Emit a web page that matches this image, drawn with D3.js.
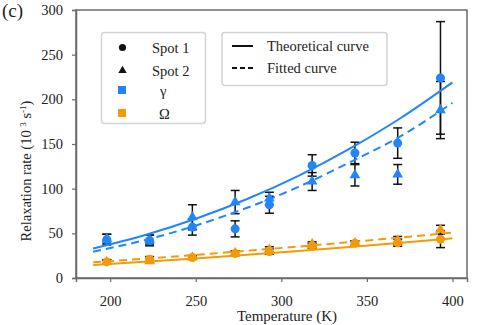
<!DOCTYPE html>
<html><head><meta charset="utf-8">
<script src="https://cdn.jsdelivr.net/npm/d3@7"></script>
<style>body{margin:0;background:#fff}svg{display:block}text{font-family:"Liberation Serif","Times New Roman",serif;fill:#222}</style>
</head><body><svg id="c" width="488" height="325"></svg>
<script>
// Measured temperatures (K)
const temps = [198, 223, 248, 273, 293, 318, 343, 368, 393];
// gamma relaxation rate (10^3 s^-1)
const gammaSpot1 = [43, 42, 57, 55, 82, 126, 140, 151, 224];
const gammaSpot1Err = [6, 6, 9, 9, 9.5, 12, 12, 17, 63];
const gammaSpot2 = [44, 43, 68, 85, 89, 108, 115, 116, 188];
const gammaSpot2Err = [5, 5, 14, 13, 7, 10, 12, 11, 32];
// Omega relaxation rate
const omegaSpot1 = [18, 21, 23, 27.5, 29.5, 36, 39, 39.5, 43.5];
const omegaSpot1Err = [2.5, 3, 2, 2.5, 3, 2.5, 2.5, 4, 9.5];
const omegaSpot2 = [18, 19, 23, 28, 32, 38, 39, 42, 54];
const omegaSpot2Err = [2, 2.5, 2, 2.5, 3, 2.5, 2.5, 4.5, 5];
// Curves
const curveTemps = [190, 220, 250, 280, 310, 340, 370, 400];
const gammaTheory = [33, 47.9, 66.3, 88.4, 114.4, 144.8, 179.4, 219];
const gammaFit = [29.5, 42.3, 58.7, 78.6, 102, 129.5, 159, 196];
const omegaTheory = [14.5, 18.1, 21.9, 25.9, 30.2, 34.7, 39.4, 44.4];
const omegaFit = [17.5, 21.6, 25.9, 30.5, 35.2, 40.2, 45.4, 50.8];
const xTicks = [200, 250, 300, 350, 400];
const yTicks = [0, 50, 100, 150, 200, 250, 300];

const BLUE = "#1f86ff", ORANGE = "#f39a0b";
const svg = d3.select("#c");
const x = d3.scaleLinear().domain([180, 408.5]).range([76, 467]);
const y = d3.scaleLinear().domain([0, 300]).range([278, 10]);

// frame
svg.append("rect").attr("x", 76).attr("y", 10).attr("width", 391).attr("height", 268)
  .attr("fill", "none").attr("stroke", "#6a6a6a").attr("stroke-width", 1.5);

// axes
const ax = svg.append("g").attr("transform", "translate(0,278)")
  .call(d3.axisBottom(x).tickValues(xTicks).tickSize(4).tickPadding(14).tickFormat(d3.format("d")));
const ay = svg.append("g").attr("transform", "translate(76,0)")
  .call(d3.axisLeft(y).tickValues(yTicks).tickSize(4).tickPadding(9).tickFormat(d3.format("d")));
[ax, ay].forEach(g => {
  g.attr("font-family", "Liberation Serif");
  g.select(".domain").attr("stroke", "#6a6a6a").attr("stroke-width", 1.5);
  g.selectAll(".tick line").attr("stroke", "#6a6a6a").attr("stroke-width", 1.2);
  g.selectAll("text").attr("font-family", "Liberation Serif").attr("font-size", 14.5).attr("fill", "#222");
});

// titles
svg.append("text").attr("x", 287).attr("y", 321).attr("text-anchor", "middle")
  .attr("font-size", 15).text("Temperature (K)");
const yt = svg.append("text").attr("transform", "translate(31,171) rotate(-90)")
  .attr("text-anchor", "middle").attr("font-size", 14.5);
yt.append("tspan").text("Relaxation rate (10 ");
yt.append("tspan").attr("font-size", 9).attr("dy", -5).text("3");
yt.append("tspan").attr("dy", 5).text(" s");
yt.append("tspan").attr("font-size", 9).attr("dy", -5).text("-1");
yt.append("tspan").attr("dy", 5).text(")");
svg.append("text").attr("x", 2).attr("y", 17).attr("font-size", 19).text("(c)");

// error bars
function errBars(vals, errs) {
  const g = svg.append("g").attr("stroke", "#111").attr("stroke-width", 1.5);
  temps.forEach((t, i) => {
    const cx = x(t), y1 = y(vals[i] + errs[i]), y2 = y(vals[i] - errs[i]);
    g.append("line").attr("x1", cx).attr("x2", cx).attr("y1", y1).attr("y2", y2);
    g.append("line").attr("x1", cx - 4.5).attr("x2", cx + 4.5).attr("y1", y1).attr("y2", y1);
    g.append("line").attr("x1", cx - 4.5).attr("x2", cx + 4.5).attr("y1", y2).attr("y2", y2);
  });
}
errBars(gammaSpot1, gammaSpot1Err);
errBars(gammaSpot2, gammaSpot2Err);
errBars(omegaSpot1, omegaSpot1Err);
errBars(omegaSpot2, omegaSpot2Err);

// curves
const line = d3.line().x((d, i) => x(curveTemps[i])).y(d => y(d)).curve(d3.curveMonotoneX);
function curve(vals, color, dash) {
  svg.append("path").attr("d", line(vals)).attr("fill", "none").attr("stroke", color)
    .attr("stroke-width", 2).attr("stroke-dasharray", dash || null);
}
curve(gammaTheory, BLUE);
curve(gammaFit, BLUE, "8,5");
curve(omegaTheory, ORANGE);
curve(omegaFit, ORANGE, "8,5");

// markers
const circ = d3.symbol().type(d3.symbolCircle).size(64);
const tri = d3.symbol().type(d3.symbolTriangle).size(50);
function markers(vals, sym, color) {
  svg.append("g").selectAll("path").data(vals).join("path")
    .attr("d", sym).attr("fill", color)
    .attr("transform", (d, i) => `translate(${x(temps[i])},${y(d)})`);
}
markers(gammaSpot1, circ, BLUE);
markers(gammaSpot2, tri, BLUE);
markers(omegaSpot1, circ, ORANGE);
markers(omegaSpot2, tri, ORANGE);

// legend 1
const lg1 = svg.append("g");
lg1.append("rect").attr("x", 101.5).attr("y", 32.5).attr("width", 104).attr("height", 91)
  .attr("rx", 3).attr("fill", "#fff").attr("stroke", "#d4d4d4").attr("stroke-width", 1.5);
lg1.append("path").attr("d", d3.symbol().type(d3.symbolCircle).size(40)()).attr("transform", "translate(122.5,47.5)").attr("fill", "#111");
lg1.append("path").attr("d", d3.symbol().type(d3.symbolTriangle).size(30)()).attr("transform", "translate(122.5,70.5)").attr("fill", "#111");
lg1.append("rect").attr("x", 118).attr("y", 86).attr("width", 8).attr("height", 8).attr("fill", BLUE);
lg1.append("rect").attr("x", 118).attr("y", 109).attr("width", 8).attr("height", 8).attr("fill", ORANGE);
lg1.append("text").attr("x", 152).attr("y", 52.5).attr("font-size", 14.5).text("Spot 1");
lg1.append("text").attr("x", 152).attr("y", 75.5).attr("font-size", 14.5).text("Spot 2");
lg1.append("text").attr("x", 160).attr("y", 96).attr("font-size", 14.5).text("γ");
lg1.append("text").attr("x", 159).attr("y", 118.5).attr("font-size", 14.5).text("Ω");

// legend 2
const lg2 = svg.append("g");
lg2.append("rect").attr("x", 222).attr("y", 32.5).attr("width", 165).attr("height", 53)
  .attr("rx", 3).attr("fill", "#fff").attr("stroke", "#d4d4d4").attr("stroke-width", 1.5);
lg2.append("line").attr("x1", 232).attr("x2", 253).attr("y1", 46).attr("y2", 46).attr("stroke", "#111").attr("stroke-width", 2);
lg2.append("line").attr("x1", 232).attr("x2", 253).attr("y1", 68).attr("y2", 68).attr("stroke", "#111").attr("stroke-width", 2).attr("stroke-dasharray", "5,3");
lg2.append("text").attr("x", 267).attr("y", 51).attr("font-size", 14.5).text("Theoretical curve");
lg2.append("text").attr("x", 267).attr("y", 73).attr("font-size", 14.5).text("Fitted curve");
</script></body></html>
